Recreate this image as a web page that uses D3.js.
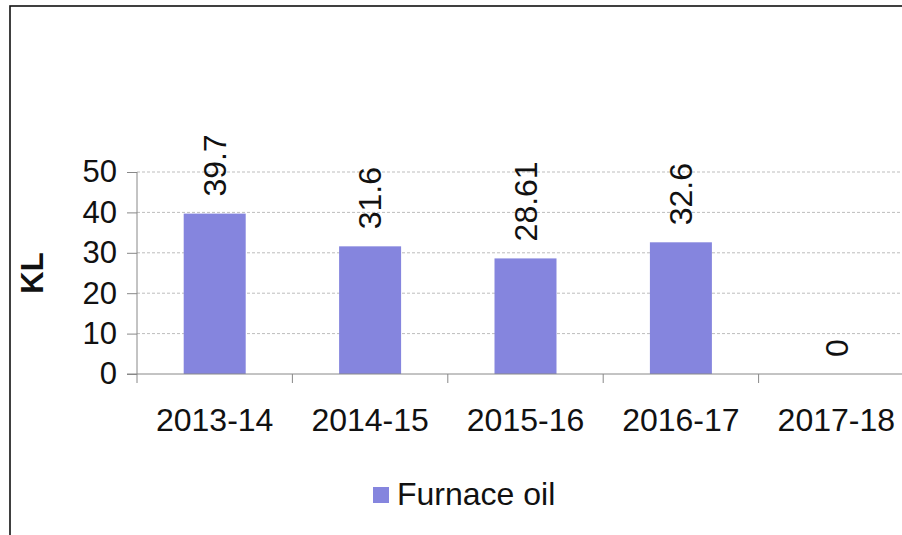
<!DOCTYPE html>
<html lang="en">
<head>
<meta charset="UTF-8">
<title>Furnace oil</title>
<script src="https://d3js.org/d3.v7.min.js"></script>
<style>
  body { margin: 0; background: #fff; }
  svg { display: block; font-family: "Liberation Sans", Arial, sans-serif; }
</style>
</head>
<body>
<div id="chart"></div>
<script>
  // chart data
  const years = ["2013-14", "2014-15", "2015-16", "2016-17", "2017-18"];
  const furnaceOil = [39.7, 31.6, 28.61, 32.6, 0];
  const yTicks = [0, 10, 20, 30, 40, 50];
  const seriesName = "Furnace oil";
  const yTitle = "KL";

  const width = 902, height = 535;
  const barColor = "#8585de";

  const svg = d3.select("#chart").append("svg")
    .attr("width", width)
    .attr("height", height);

  // outer frame (runs off the right and bottom edge)
  svg.append("rect")
    .attr("x", 10).attr("y", 6)
    .attr("width", 1000).attr("height", 1000)
    .attr("fill", "#fff")
    .attr("stroke", "#111")
    .attr("stroke-width", 1.6);

  const x = d3.scaleBand().domain(years).range([137, 914]).paddingInner(0.6).paddingOuter(0.3);
  const xEdge = d3.scaleBand().domain(years).range([137, 914]);
  const y = d3.scaleLinear().domain([0, 50]).range([374, 172]);

  // gridlines
  svg.append("g")
    .selectAll("line")
    .data(yTicks.filter(d => d > 0))
    .join("line")
    .attr("x1", 137).attr("x2", width)
    .attr("y1", d => y(d)).attr("y2", d => y(d))
    .attr("stroke", "#bdbdbd")
    .attr("stroke-dasharray", "3,2");

  // bars
  svg.append("g")
    .selectAll("rect")
    .data(furnaceOil)
    .join("rect")
    .attr("x", (d, i) => xEdge(years[i]) + xEdge.bandwidth() / 2 - 31)
    .attr("width", 62)
    .attr("y", d => y(d))
    .attr("height", d => y(0) - y(d))
    .attr("fill", barColor);

  // y axis
  const yAxis = svg.append("g")
    .attr("transform", "translate(137,0)")
    .call(d3.axisLeft(y).tickValues(yTicks).tickSize(10).tickPadding(10));
  yAxis.select(".domain").attr("stroke", "#888").attr("d", "M0,172V374");
  yAxis.selectAll(".tick line").attr("stroke", "#888");
  yAxis.selectAll(".tick text")
    .attr("font-size", 31)
    .attr("font-family", "Liberation Sans, Arial, sans-serif")
    .attr("fill", "#111");

  // x axis line and category ticks
  const xg = svg.append("g");
  xg.append("line")
    .attr("x1", 127).attr("x2", width)
    .attr("y1", y(0)).attr("y2", y(0))
    .attr("stroke", "#888");
  xg.selectAll(".xt")
    .data(years)
    .join("line")
    .attr("class", "xt")
    .attr("x1", d => xEdge(d)).attr("x2", d => xEdge(d))
    .attr("y1", y(0)).attr("y2", y(0) + 9)
    .attr("stroke", "#888");
  xg.selectAll(".xl")
    .data(years)
    .join("text")
    .attr("class", "xl")
    .attr("x", d => xEdge(d) + xEdge.bandwidth() / 2)
    .attr("y", 431)
    .attr("text-anchor", "middle")
    .attr("font-size", 32)
    .attr("fill", "#111")
    .text(d => d);

  // data labels, rotated
  svg.append("g")
    .selectAll("text")
    .data(furnaceOil)
    .join("text")
    .attr("transform", (d, i) =>
      `translate(${xEdge(years[i]) + xEdge.bandwidth() / 2},${y(d) - 17}) rotate(-90)`)
    .attr("dy", "0.35em")
    .attr("text-anchor", "start")
    .attr("font-size", 32)
    .attr("fill", "#111")
    .text(d => d);

  // y title
  svg.append("text")
    .attr("transform", "translate(32,273) rotate(-90)")
    .attr("dy", "0.35em")
    .attr("text-anchor", "middle")
    .attr("font-size", 31)
    .attr("font-weight", "bold")
    .attr("fill", "#111")
    .text(yTitle);

  // legend
  const lg = svg.append("g");
  lg.append("rect")
    .attr("x", 373).attr("y", 487)
    .attr("width", 16).attr("height", 16)
    .attr("fill", barColor);
  lg.append("text")
    .attr("x", 397).attr("y", 505)
    .attr("font-size", 32)
    .attr("fill", "#111")
    .text(seriesName);
</script>
</body>
</html>
